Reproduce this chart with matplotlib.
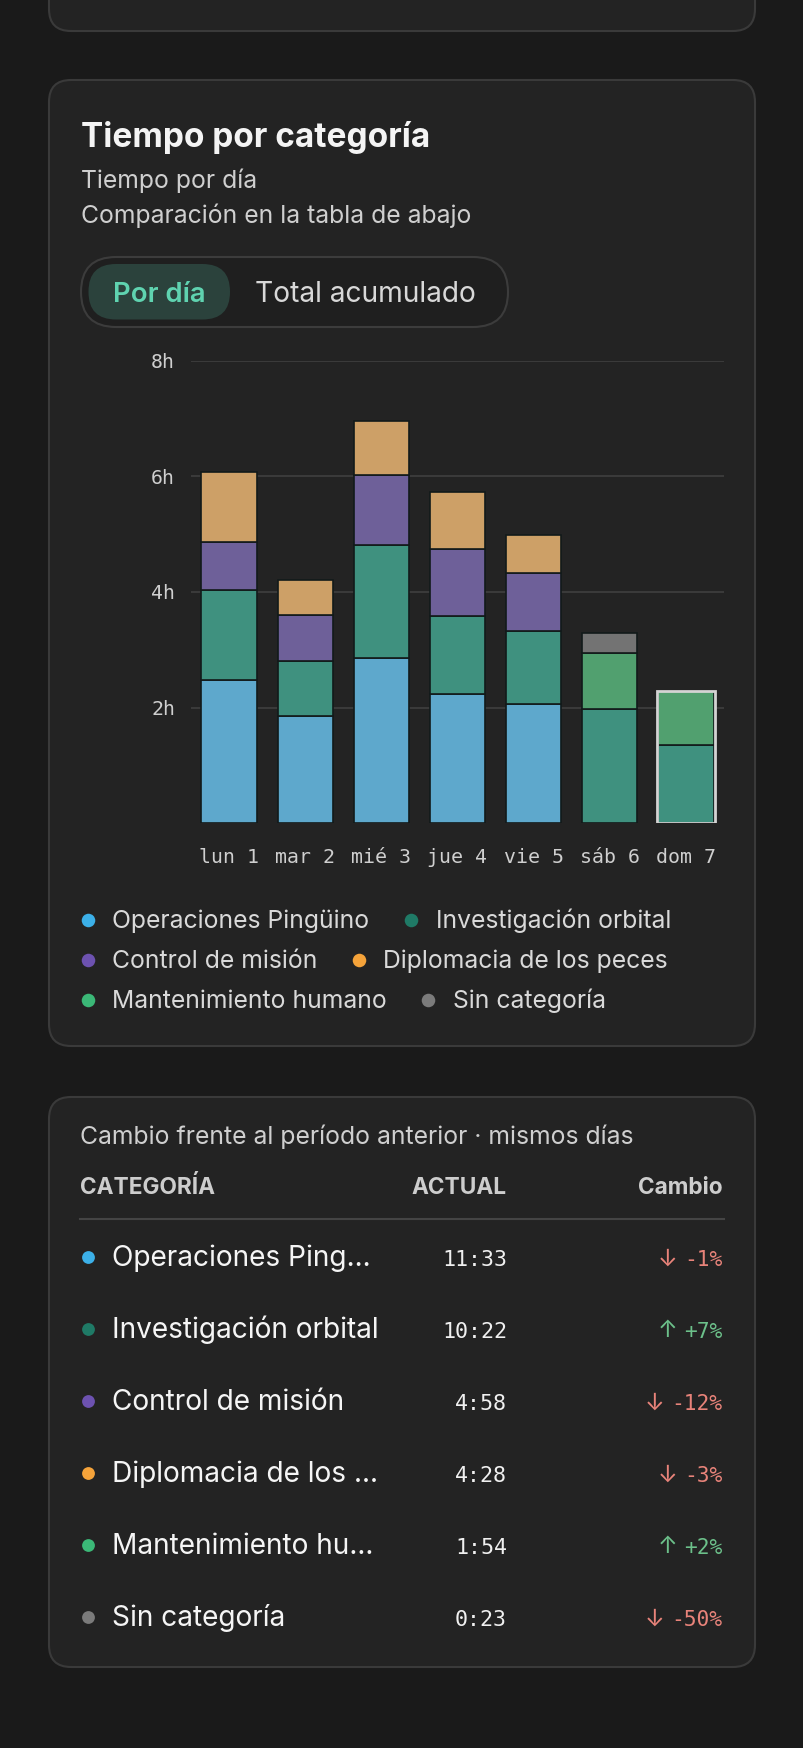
import numpy as np
import matplotlib
matplotlib.use("Agg")
from matplotlib import pyplot as plt
from matplotlib.patches import FancyBboxPatch

plt.rcParams['font.family'] = ['Inter', 'DejaVu Sans']

# datos del gráfico (horas por día)
days = ["lun 1", "mar 2", "mié 3", "jue 4", "vie 5", "sáb 6", "dom 7"]
categories = ["Operaciones Pingüino", "Investigación orbital", "Control de misión",
              "Diplomacia de los peces", "Mantenimiento humano", "Sin categoría"]
operaciones = [2.48, 1.86, 2.86, 2.24, 2.07, 0, 0]
investigacion = [1.55, 0.95, 1.95, 1.34, 1.26, 1.97, 1.35]
control = [0.83, 0.79, 1.21, 1.17, 1.00, 0, 0]
diplomacia = [1.22, 0.60, 0.94, 0.98, 0.65, 0, 0]
mantenimiento = [0, 0, 0, 0, 0, 0.97, 0.93]
sin_categoria = [0, 0, 0, 0, 0, 0.35, 0]
y_ticks = [2, 4, 6, 8]

# tabla de comparación
tabla_nombres = ["Operaciones Ping…", "Investigación orbital", "Control de misión",
                 "Diplomacia de los …", "Mantenimiento hu…", "Sin categoría"]
tabla_actual = ["11:33", "10:22", "4:58", "4:28", "1:54", "0:23"]
tabla_cambio = [-1, 7, -12, -3, 2, -50]

bar_colors = ['#5ea8cc', '#3f917f', '#6e6099', '#cda067', '#51a06f', '#737373']
dot_colors = ['#3cb0e8', '#1f7a66', '#6d52b0', '#f5a33a', '#3bb877', '#7b7b7b']

BG = '#1a1a1a'
CARD = '#232323'
BORDER = '#3a3a3a'
MONO = 'DejaVu Sans Mono'
SANS = ['Inter', 'DejaVu Sans']

W, H = 804, 1748
fig = plt.figure(figsize=(W / 100, H / 100), dpi=100, facecolor=BG)
bg = fig.add_axes([0, 0, 1, 1])
bg.set_xlim(0, W)
bg.set_ylim(H, 0)
bg.axis('off')
bg.set_facecolor(BG)


def card(x0, y0, x1, y1, r=22, fc=CARD, ec=BORDER, lw=1.5, z=1):
    p = FancyBboxPatch((x0, y0), x1 - x0, y1 - y0,
                       boxstyle=f"round,pad=0,rounding_size={r}",
                       fc=fc, ec=ec, lw=lw, zorder=z)
    bg.add_patch(p)


# tarjetas
card(49, -40, 755, 31)
card(49, 80, 755, 1046)
card(49, 1097, 755, 1667)

# cabecera
bg.text(81, 146.7, "Tiempo por categoría", fontsize=24, fontweight='bold',
        color='#f4f4f4', va='baseline', zorder=5)
bg.text(81, 187.7, "Tiempo por día", fontsize=17.8, color='#cfcfcf', va='baseline', zorder=5)
bg.text(81, 223.3, "Comparación en la tabla de abajo", fontsize=17.8, color='#cfcfcf',
        va='baseline', zorder=5)

# selector
card(81, 257, 508, 327, r=35, fc='#1f1f1f', ec='#3c3c3c', lw=1.5, z=2)
card(88.5, 264, 230, 319.5, r=27.5, fc='#2b423c', ec='none', lw=0, z=3)
bg.text(159, 301.7, "Por día", fontsize=19.8, fontweight='semibold', color='#5fd3b0',
        ha='center', va='baseline', zorder=5)
bg.text(365.5, 301.7, "Total acumulado", fontsize=20.3, color='#d8d8d8',
        ha='center', va='baseline', zorder=5)

# gráfico de barras apiladas
x0_px, x1_px = 191, 724
y_top, y_bot = 360.7, 823.3
ax = fig.add_axes([x0_px / W, 1 - y_bot / H, (x1_px - x0_px) / W, (y_bot - y_top) / H])
ax.set_facecolor('none')
ax.set_xlim(-0.5, len(days) - 0.5)
ax.set_ylim(0, 8)

x = np.arange(len(days))
series = [operaciones, investigacion, control, diplomacia, mantenimiento, sin_categoria]
bottom = np.zeros(len(days))
for vals, col in zip(series, bar_colors):
    v = np.array(vals, dtype=float)
    m = v > 0
    ax.bar(x[m], v[m], width=0.725, bottom=bottom[m], color=col,
           edgecolor='#121a1a', linewidth=1.2, zorder=3)
    bottom = bottom + v

# día seleccionado
ax.bar(x[-1], bottom[-1], width=0.76, bottom=0, fill=False,
       edgecolor='#d4d4d4', linewidth=2, zorder=4)

ax.set_yticks(y_ticks, [f"{t}h" for t in y_ticks])
ax.set_xticks(x, days)
ax.grid(axis='y', color='#3a3a3a', linewidth=1.5, zorder=0)
ax.set_axisbelow(True)
for s in ax.spines.values():
    s.set_visible(False)
ax.tick_params(axis='both', length=0, colors='#cfcfcf')
ax.tick_params(axis='y', pad=11.5)
ax.tick_params(axis='x', pad=17.5)
for lab in ax.get_yticklabels() + ax.get_xticklabels():
    lab.set_fontfamily(MONO)
    lab.set_fontsize(14.3)
    lab.set_color('#cfcfcf')

# leyenda
legend_pos = [(88.5, 920, 112.5), (411, 920, 435.8),
              (88.5, 960, 112.5), (358.6, 960, 383.4),
              (88.5, 1000, 112.5), (428, 1000, 452.8)]
for (dx, dy, tx), name, col in zip(legend_pos, categories, dot_colors):
    bg.scatter([dx], [dy], s=95, color=col, lw=0, zorder=5)
    bg.text(tx, dy + 8.2, name, fontsize=17.8, color='#d9d9d9', va='baseline', zorder=5)

# tabla
bg.text(80.5, 1144, "Cambio frente al período anterior · mismos días", fontsize=17.8,
        color='#cfcfcf', va='baseline', zorder=5)
bg.text(80.5, 1194.3, "CATEGORÍA", fontsize=16.3, fontweight='bold', color='#cdcdcd',
        va='baseline', zorder=5)
bg.text(507, 1194.3, "ACTUAL", fontsize=16.3, fontweight='bold', color='#cdcdcd',
        ha='right', va='baseline', zorder=5)
bg.text(722.7, 1194.3, "Cambio", fontsize=16.3, fontweight='bold', color='#cdcdcd',
        ha='right', va='baseline', zorder=5)
bg.plot([80.5, 724], [1218.7, 1218.7], color='#444444', lw=1.5, zorder=5)

row_y = 1256.7
for name, actual, cambio, col in zip(tabla_nombres, tabla_actual, tabla_cambio, dot_colors):
    bg.scatter([88.5], [row_y], s=85, color=col, lw=0, zorder=5)
    bg.text(112.5, row_y + 9.7, name, fontsize=20.2, color='#f5f5f5', va='baseline', zorder=5)
    bg.text(507, row_y + 9.7, actual, fontsize=15.6, family=MONO, color='#f0f0f0',
            ha='right', va='baseline', zorder=5)
    if cambio < 0:
        arrow, pct, c = "↓", f"{cambio}%", '#e8837a'
    else:
        arrow, pct, c = "↑", f"+{cambio}%", '#6cc08a'
    t = bg.text(722.7, row_y + 9.7, pct, fontsize=15.3, family=MONO, color=c,
                ha='right', va='baseline', zorder=5)
    bg.annotate(arrow, xy=(0, 0), xycoords=t, xytext=(-5, 0), textcoords='offset points',
                fontsize=17, family=SANS, color=c, ha='right', va='bottom', zorder=5)
    row_y += 72

fig.savefig("out.png", dpi=100, facecolor=BG)
